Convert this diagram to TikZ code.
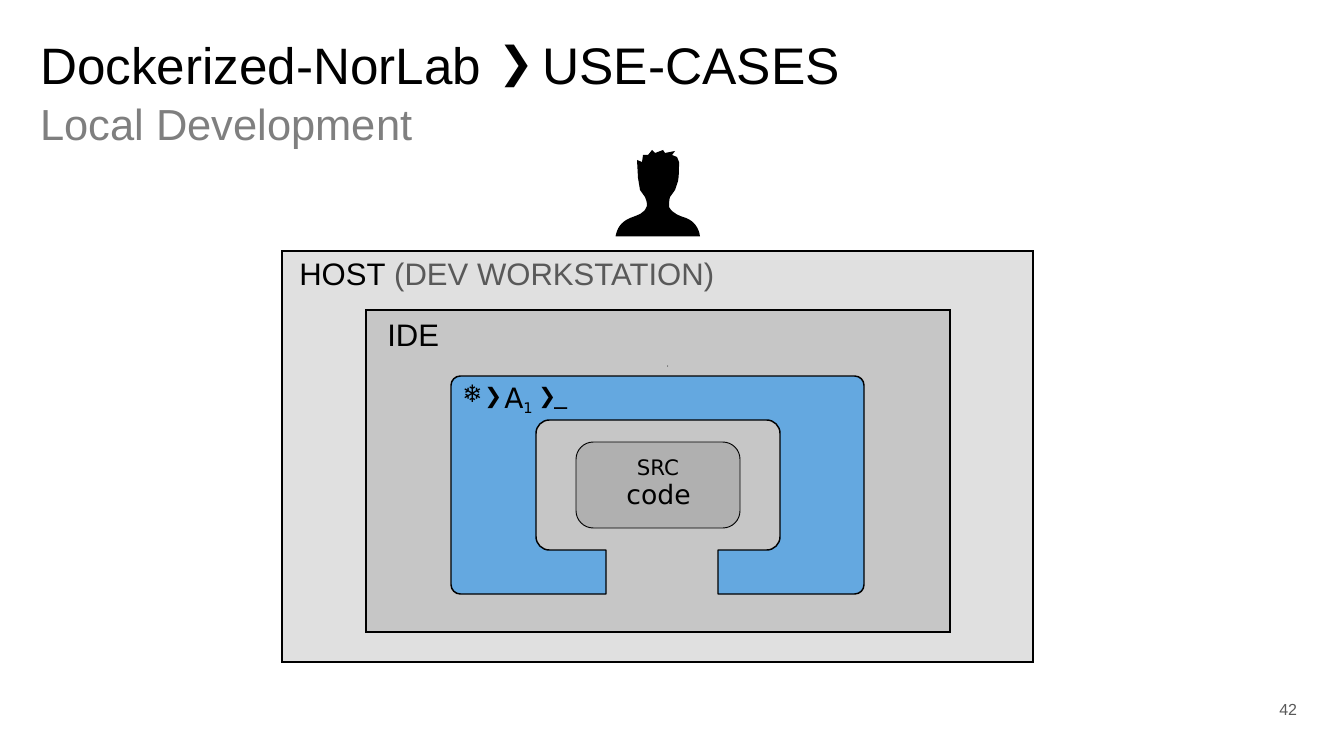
\documentclass[tikz,border=0pt]{standalone}
\usepackage{fontspec}
\setmainfont{Liberation Sans}
\newfontfamily\dejavu{DejaVu Sans}
\definecolor{hostgray}{HTML}{E0E0E0}
\definecolor{idegray}{HTML}{C6C6C6}
\definecolor{srcgray}{HTML}{B0B0B0}
\definecolor{dnblue}{HTML}{64A8E0}
\definecolor{subgray}{HTML}{7F7F7F}
\definecolor{notegray}{HTML}{595959}
\tikzset{
    flatbox/.style={draw=black,line width=1.1pt},
    label/.style={inner sep=0pt,anchor=base west},
    monolabel/.style={inner sep=0pt,anchor=base,font=\dejavu},
}
\begin{document}
\begin{tikzpicture}[x=0.75pt,y=-0.75pt]
    \useasboundingbox (0,0) rectangle (1330,748);
    \node[label,font=\fontsize{38.4}{38}\selectfont] (title) at (40,85) {Dockerized-NorLab};
    \node[label,font=\dejavu\fontsize{32}{32}\selectfont] (chevron) at (498,78) {❯};
    \node[label,font=\fontsize{38.6}{38}\selectfont] (usecases) at (542,85) {USE-CASES};
    \node[label,text=subgray,font=\fontsize{32.6}{32}\selectfont] (subtitle) at (40,140.5) {Local Development};
    % person
    \fill (615.5,236.5) .. controls (617,228) and (621,222) .. (630,218)
        .. controls (638,215) and (645,213) .. (647,206)
        .. controls (647,202) and (646,199) .. (645,197)
        -- (640,190) -- (638,178) -- (637,160) -- (642,162) -- (643,155) -- (648,155)
        -- (652,150) -- (655,153) -- (663,150) -- (665,153) -- (675,151)
        -- (672,155) -- (677,157) -- (679,162)
        .. controls (679,170) and (679,176) .. (678,181)
        -- (675,190) -- (670,197)
        .. controls (669,200) and (669,204) .. (669,207)
        .. controls (673,214) and (680,216) .. (686,218)
        .. controls (694,221) and (699,228) .. (700,236.5) -- cycle;
    \draw[flatbox,fill=hostgray] (282,251) rectangle (1033,662);
    \node[label,font=\fontsize{23.3}{23}\selectfont] (host) at (299,286) {HOST \textcolor{notegray}{(DEV WORKSTATION)}};
    \draw[flatbox,fill=idegray] (366,310) rectangle (950,632);
    \node[label,font=\fontsize{23.3}{23}\selectfont] (ide) at (387,346) {IDE};
    \fill (667.5,366) circle (0.5);
    % U shape
    \draw[flatbox,fill=dnblue,line join=round]
        (606,550) -- (606,594)
        [rounded corners=7] -- (451,594) -- (451,376) -- (864,376) -- (864,594)
        [sharp corners] -- (718,594) -- (718,550)
        [rounded corners=10] -- (780,550) -- (780,420) -- (536,420) -- (536,550)
        [sharp corners] -- cycle;
    \fill[idegray] (607,551) rectangle (717,596);
    \draw[draw=black,line width=.7pt,fill=srcgray,rounded corners=13] (576,442) rectangle (740,528);
    \node[monolabel,font=\dejavu\fontsize{16}{16}\selectfont] (src) at (658,475) {SRC};
    \node[monolabel,font=\dejavu\fontsize{20}{20}\selectfont] (code) at (658.5,504) {code};
    \node[label,font=\dejavu\fontsize{18}{18}\selectfont] (flake) at (462,402) {❄};
    \node[label,font=\dejavu\fontsize{16}{16}\selectfont] (promptA) at (484,403) {❯};
    \node[label,font=\dejavu\fontsize{21}{21}\selectfont] (aone) at (504,408) {A};
    \node[label,font=\dejavu\fontsize{11}{11}\selectfont] (one) at (523,413) {1};
    \node[label,font=\dejavu\fontsize{16}{16}\selectfont] (promptB) at (538,403) {❯};
    \node[label,font=\dejavu\fontsize{19}{19}\selectfont] (cursor) at (554,403) {\_};
    \node[label,text=notegray,font=\fontsize{12}{12}\selectfont] (page) at (1279,715) {42};
\end{tikzpicture}
\end{document}
